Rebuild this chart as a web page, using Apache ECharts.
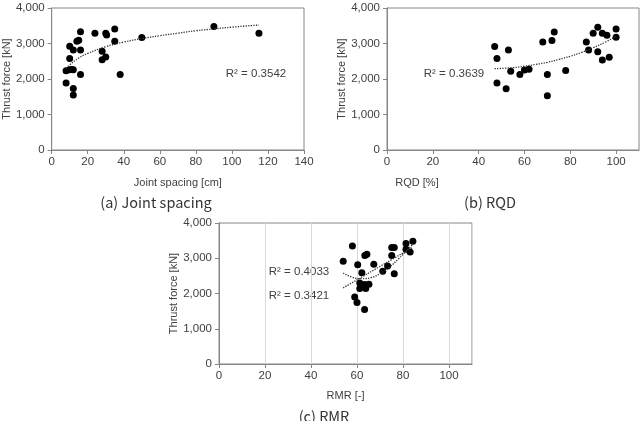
<!DOCTYPE html>
<html>
<head>
<meta charset="utf-8">
<script src="https://cdn.jsdelivr.net/npm/echarts@6/dist/echarts.min.js"></script>
<style>
  html, body { margin: 0; padding: 0; background: #fff; }
  #chart { width: 640px; height: 421px; }
</style>
</head>
<body>
<div id="chart"></div>
<script>
// (a) joint spacing vs thrust
const jointSpacing = [8, 8, 10, 10, 10, 11, 12, 12, 12, 12, 14, 15, 16, 16, 16, 24, 28, 28, 30, 30.5, 30, 35, 35, 38, 50, 90, 115];
const thrustA = [1890, 2230, 2920, 2580, 2260, 2270, 2820, 2260, 1730, 1550, 3060, 3090, 3330, 2820, 2130, 3290, 2780, 2540, 3290, 3240, 2620, 3410, 3060, 2130, 3170, 3480, 3290];
const trendAX = [8, 10, 15, 20, 30, 40, 50, 60, 70, 80, 90, 100, 115];
const trendAY = [2300, 2400, 2590, 2720, 2910, 3040, 3140, 3220, 3290, 3360, 3410, 3460, 3520];

// (b) RQD vs thrust
const rqd = [47, 48, 48, 52, 53, 54, 58, 60, 62, 68, 70, 70, 72, 73, 78, 87, 88, 90, 92, 92, 94, 94, 96, 97, 100, 100];
const thrustB = [2915, 2575, 1885, 1725, 2815, 2215, 2125, 2255, 2275, 3045, 2125, 1528, 3088, 3327, 2237, 3045, 2815, 3290, 3455, 2768, 3290, 2538, 3234, 2613, 3407, 3173];
const trendBX = [47, 55, 60, 65, 70, 75, 80, 85, 90, 95, 100];
const trendBY = [2290, 2320, 2360, 2410, 2470, 2550, 2640, 2750, 2880, 3030, 3200];

// (c) RMR vs thrust
const rmr = [54, 58, 59, 60, 60.3, 61.2, 61.2, 62.1, 63.4, 64.3, 63.3, 63.3, 63.8, 65.2, 67.3, 71.2, 73.3, 75.1, 75.1, 76.2, 76.2, 81.3, 81.3, 83.1, 84.3];
const thrustC = [2915, 3350, 1900, 1742, 2813, 2295, 2140, 2590, 3075, 3113, 1547, 2255, 2140, 2264, 2830, 2632, 2783, 3075, 3302, 3302, 2557, 3420, 3255, 3180, 3481];
const trendC1X = [54, 58, 62, 66, 70, 74, 78, 82, 84];
const trendC1Y = [2580, 2460, 2420, 2450, 2560, 2740, 2980, 3240, 3380];
const trendC2X = [54, 84];
const trendC2Y = [2160, 3300];

const yTicks = [0, 1000, 2000, 3000, 4000];
const r2Labels = ['R² = 0.3542', 'R² = 0.3639', 'R² = 0.4033', 'R² = 0.3421'];
const captions = ['(a) Joint spacing', '(b) RQD', '(c) RMR'];
const xNames = ['Joint spacing [cm]', 'RQD [%]', 'RMR [-]'];
const yName = 'Thrust force [kN]';

const font = 'Liberation Sans, Arial, sans-serif';
const axisGray = '#868686';
const labelColor = '#404040';

function zip(xs, ys) {
  return xs.map((x, i) => [x, ys[i]]);
}

function xAxis(idx, max, name, nameGap, split) {
  return {
    type: 'value', gridIndex: idx, min: 0, max: max, interval: 20,
    name: name, nameLocation: 'middle', nameGap: nameGap,
    nameTextStyle: { fontFamily: font, fontSize: 11, color: labelColor },
    axisLine: { lineStyle: { color: axisGray } },
    axisTick: { show: true, length: 4, lineStyle: { color: axisGray } },
    axisLabel: { fontFamily: font, fontSize: 11.5, color: labelColor, margin: 6, showMaxLabel: max === 140 },
    splitLine: { show: split, lineStyle: { color: '#d9d9d9' } }
  };
}

function yAxis(idx, nameGap) {
  return {
    type: 'value', gridIndex: idx, min: yTicks[0], max: yTicks[yTicks.length - 1], interval: 1000,
    name: yName, nameLocation: 'middle', nameGap: nameGap,
    nameTextStyle: { fontFamily: font, fontSize: 11, color: labelColor },
    axisLine: { show: true, lineStyle: { color: axisGray } },
    axisTick: { show: true, length: 4, lineStyle: { color: axisGray } },
    axisLabel: {
      fontFamily: font, fontSize: 11.5, color: labelColor, margin: 7,
      formatter: v => v.toLocaleString('en-US')
    },
    splitLine: { show: false }
  };
}

function scatter(idx, xs, ys) {
  return {
    type: 'scatter', xAxisIndex: idx, yAxisIndex: idx,
    data: zip(xs, ys), symbolSize: 7,
    itemStyle: { color: '#000', opacity: 1 }
  };
}

function trend(idx, xs, ys) {
  return {
    type: 'line', xAxisIndex: idx, yAxisIndex: idx,
    data: zip(xs, ys), smooth: true, showSymbol: false, silent: true,
    lineStyle: { color: '#333', width: 1.3, type: 'dotted' }
  };
}

function text(x, y, str, size, family, color) {
  return {
    type: 'text', x: x, y: y,
    style: { text: str, fontSize: size, fontFamily: family, fill: color, align: 'center', verticalAlign: 'middle' }
  };
}

const chart = echarts.init(document.getElementById('chart'));

const gridStyle = { show: true, borderColor: axisGray, borderWidth: 1, containLabel: false };

chart.setOption({
  backgroundColor: '#fff',
  animation: false,
  grid: [
    Object.assign({ left: 51, top: 8, width: 253, height: 142 }, gridStyle),
    Object.assign({ left: 387, top: 8, width: 252, height: 142 }, gridStyle),
    Object.assign({ left: 219, top: 223, width: 253, height: 141 }, gridStyle)
  ],
  xAxis: [
    xAxis(0, 140, xNames[0], 27, false),
    xAxis(1, 110, '', 27, false),
    xAxis(2, 110, xNames[2], 26, true)
  ],
  yAxis: [
    yAxis(0, 37),
    yAxis(1, 40),
    yAxis(2, 40)
  ],
  series: [
    scatter(0, jointSpacing, thrustA),
    trend(0, trendAX, trendAY),
    scatter(1, rqd, thrustB),
    trend(1, trendBX, trendBY),
    scatter(2, rmr, thrustC),
    trend(2, trendC1X, trendC1Y),
    trend(2, trendC2X, trendC2Y)
  ],
  graphic: [
    text(256, 74, r2Labels[0], 11.5, font, '#404040'),
    text(454, 74, r2Labels[1], 11.5, font, '#404040'),
    text(299, 272, r2Labels[2], 11.5, font, '#404040'),
    text(299, 296, r2Labels[3], 11.5, font, '#404040'),
    text(417, 183, xNames[1], 11, font, labelColor),
    text(156, 202, captions[0], 14.5, 'Noto Sans CJK KR, Noto Sans, sans-serif', '#333'),
    text(490, 202, captions[1], 14.5, 'Noto Sans CJK KR, Noto Sans, sans-serif', '#333'),
    text(324, 416, captions[2], 14.5, 'Noto Sans CJK KR, Noto Sans, sans-serif', '#333')
  ]
});
</script>
</body>
</html>
